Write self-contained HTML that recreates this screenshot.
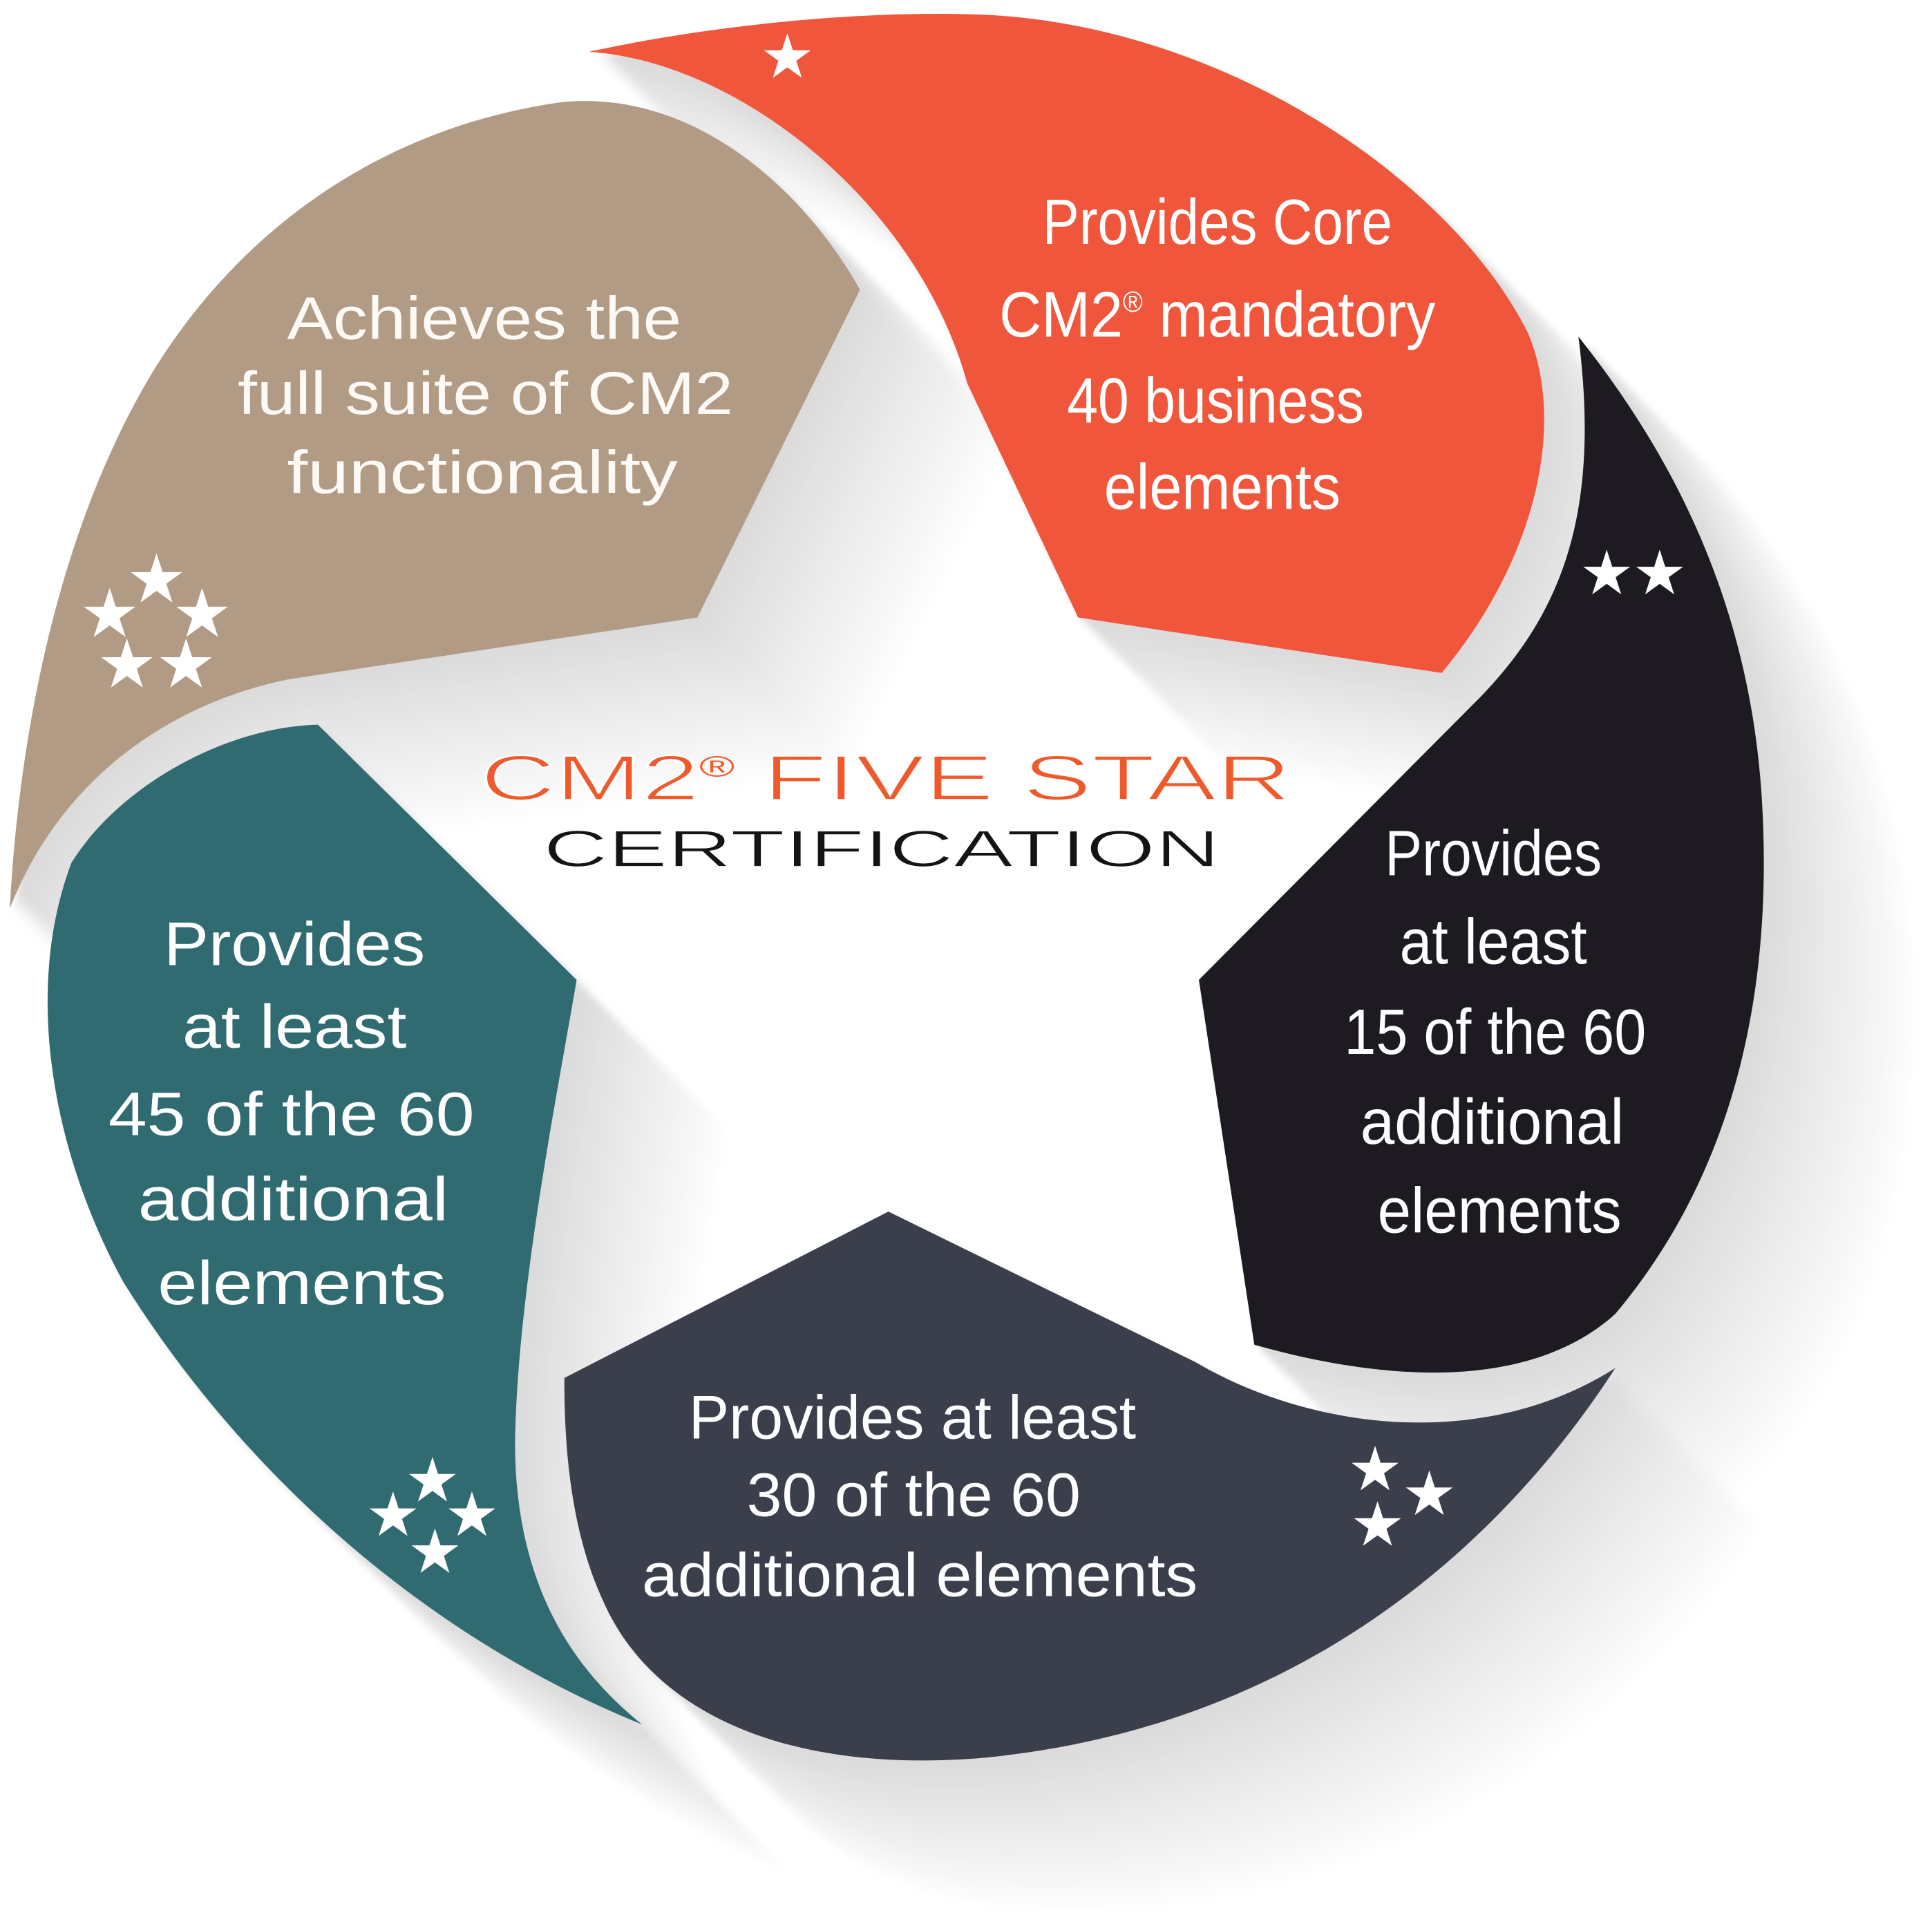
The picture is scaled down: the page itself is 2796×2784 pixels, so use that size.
<!DOCTYPE html>
<html>
<head>
<meta charset="utf-8">
<style>
html,body{margin:0;padding:0;background:#fff;}
body{width:2796px;height:2784px;overflow:hidden;}
svg{display:block;}
text{font-family:"Liberation Sans",Arial,sans-serif;}
</style>
</head>
<body>
<svg width="2796" height="2784" viewBox="0 0 1568 1561" preserveAspectRatio="none" xmlns="http://www.w3.org/2000/svg">
<defs>
  <path id="pTan" d="M 8,737 C 14,620 40,440 125,300 C 190,195 300,105 455,83 C 560,72 650,150 698,235 L 566,501 L 235,551 C 140,570 50,630 8,737 Z"/>
  <path id="pOr" d="M 478,42 C 580,20 700,8 800,12 C 1000,22 1180,150 1240,270 C 1270,340 1250,450 1170,546 L 875,501 L 785,311 C 745,165 600,50 478,42 Z"/>
  <path id="pBk" d="M 1281,273 C 1350,360 1420,480 1430,650 C 1440,820 1400,960 1311,1066 C 1240,1130 1120,1120 1018,1091 L 973,795 L 1201,566 C 1265,500 1300,420 1281,273 Z"/>
  <path id="pSl" d="M 721,983 L 970,1105 C 1060,1158 1200,1180 1311,1110 C 1220,1250 1060,1400 800,1426 C 640,1440 530,1390 490,1300 C 462,1240 458,1170 458,1118 Z"/>
  <path id="pTl" d="M 258,588 L 468,795 C 450,900 420,1050 418,1170 C 418,1280 460,1350 521,1399 C 350,1330 200,1200 100,1040 C 40,930 20,800 58,700 C 95,640 180,590 258,588 Z"/>
  <g id="all">
    <use href="#pTan"/><use href="#pOr"/><use href="#pBk"/><use href="#pSl"/><use href="#pTl"/>
  </g>
  <path id="st" d="M0,-1 L0.2245,-0.309 L0.951,-0.309 L0.363,0.118 L0.588,0.809 L0,0.382 L-0.588,0.809 L-0.363,0.118 L-0.951,-0.309 L-0.2245,-0.309Z"/>
  <filter id="blur" x="-10%" y="-10%" width="120%" height="120%"><feGaussianBlur stdDeviation="3"/></filter>
</defs>

<rect x="0" y="0" width="1568" height="1561" fill="#fff"/>

<!-- long shadows: far (light) to near (dark) -->
<g filter="url(#blur)">
  <use href="#all" transform="translate(125,125)" fill="#fefefe"/>
  <use href="#all" transform="translate(120,120)" fill="#fcfcfc"/>
  <use href="#all" transform="translate(115,115)" fill="#fbfbfb"/>
  <use href="#all" transform="translate(110,110)" fill="#f9f9f9"/>
  <use href="#all" transform="translate(105,105)" fill="#f8f8f8"/>
  <use href="#all" transform="translate(100,100)" fill="#f6f6f6"/>
  <use href="#all" transform="translate(95,95)" fill="#f5f5f5"/>
  <use href="#all" transform="translate(90,90)" fill="#f4f4f4"/>
  <use href="#all" transform="translate(85,85)" fill="#f2f2f2"/>
  <use href="#all" transform="translate(80,80)" fill="#f1f1f1"/>
  <use href="#all" transform="translate(75,75)" fill="#efefef"/>
  <use href="#all" transform="translate(70,70)" fill="#eeeeee"/>
  <use href="#all" transform="translate(65,65)" fill="#ececec"/>
  <use href="#all" transform="translate(60,60)" fill="#ebebeb"/>
  <use href="#all" transform="translate(55,55)" fill="#eaeaea"/>
  <use href="#all" transform="translate(50,50)" fill="#e8e8e8"/>
  <use href="#all" transform="translate(45,45)" fill="#e7e7e7"/>
  <use href="#all" transform="translate(40,40)" fill="#e5e5e5"/>
  <use href="#all" transform="translate(35,35)" fill="#e4e4e4"/>
  <use href="#all" transform="translate(30,30)" fill="#e3e3e3"/>
  <use href="#all" transform="translate(25,25)" fill="#e1e1e1"/>
  <use href="#all" transform="translate(20,20)" fill="#e0e0e0"/>
  <use href="#all" transform="translate(15,15)" fill="#dedede"/>
  <use href="#all" transform="translate(10,10)" fill="#dddddd"/>
  <use href="#all" transform="translate(5,5)" fill="#dbdbdb"/>
</g>

<!-- petals -->
<use href="#pTan" fill="#b29b85"/>
<use href="#pOr" fill="#ef563b"/>
<use href="#pBk" fill="#1e1a21"/>
<use href="#pSl" fill="#3b3f4b"/>
<use href="#pTl" fill="#306b71"/>

<!-- stars -->
<g fill="#fff">
  <use href="#st" transform="translate(639,47) scale(20)"/>
  <use href="#st" transform="translate(1304,466) scale(20)"/>
  <use href="#st" transform="translate(1347,466) scale(20)"/>
  <use href="#st" transform="translate(1116,1193) scale(20)"/>
  <use href="#st" transform="translate(1160,1213) scale(20)"/>
  <use href="#st" transform="translate(1118,1238) scale(20)"/>
  <use href="#st" transform="translate(351,1202) scale(20)"/>
  <use href="#st" transform="translate(319,1230) scale(20)"/>
  <use href="#st" transform="translate(383,1230) scale(20)"/>
  <use href="#st" transform="translate(353,1260) scale(20)"/>
  <use href="#st" transform="translate(127,471) scale(22)"/>
  <use href="#st" transform="translate(89,499) scale(22)"/>
  <use href="#st" transform="translate(164,499) scale(22)"/>
  <use href="#st" transform="translate(103,540) scale(22)"/>
  <use href="#st" transform="translate(151,540) scale(22)"/>
</g>

<!-- tan text -->
<g fill="#fdfaf6" font-size="49">
  <text x="233" y="275" textLength="320" lengthAdjust="spacingAndGlyphs">Achieves the</text>
  <text x="193" y="336" textLength="402" lengthAdjust="spacingAndGlyphs">full suite of CM2</text>
  <text x="233" y="400" textLength="317" lengthAdjust="spacingAndGlyphs">functionality</text>
</g>

<!-- orange text -->
<g fill="#fff" font-size="52">
  <text x="846" y="198" textLength="284" lengthAdjust="spacingAndGlyphs">Provides Core</text>
  <text x="811" y="273" textLength="354" lengthAdjust="spacingAndGlyphs">CM2<tspan font-size="24" dy="-20">®</tspan><tspan dy="20"> mandatory</tspan></text>
  <text x="866" y="343" textLength="241" lengthAdjust="spacingAndGlyphs">40 business</text>
  <text x="896" y="413" textLength="192" lengthAdjust="spacingAndGlyphs">elements</text>
</g>

<!-- black text -->
<g fill="#fff" font-size="52">
  <text x="1124" y="710" textLength="176" lengthAdjust="spacingAndGlyphs">Provides</text>
  <text x="1136" y="782" textLength="152" lengthAdjust="spacingAndGlyphs">at least</text>
  <text x="1091" y="855" textLength="245" lengthAdjust="spacingAndGlyphs">15 of the 60</text>
  <text x="1104" y="928" textLength="214" lengthAdjust="spacingAndGlyphs">additional</text>
  <text x="1118" y="1000" textLength="198" lengthAdjust="spacingAndGlyphs">elements</text>
</g>

<!-- slate text -->
<g fill="#fff" font-size="50">
  <text x="559" y="1167" textLength="363" lengthAdjust="spacingAndGlyphs">Provides at least</text>
  <text x="606" y="1230" textLength="271" lengthAdjust="spacingAndGlyphs">30 of the 60</text>
  <text x="521" y="1295" textLength="451" lengthAdjust="spacingAndGlyphs">additional elements</text>
</g>

<!-- teal text -->
<g fill="#fff" font-size="50">
  <text x="133" y="783" textLength="212" lengthAdjust="spacingAndGlyphs">Provides</text>
  <text x="148" y="850" textLength="182" lengthAdjust="spacingAndGlyphs">at least</text>
  <text x="88" y="921" textLength="297" lengthAdjust="spacingAndGlyphs">45 of the 60</text>
  <text x="112" y="990" textLength="252" lengthAdjust="spacingAndGlyphs">additional</text>
  <text x="128" y="1058" textLength="234" lengthAdjust="spacingAndGlyphs">elements</text>
</g>

<!-- center title -->
<text x="390" y="649" font-size="52" fill="#ee5a2c" stroke="#fff" stroke-width="1.4" textLength="658" lengthAdjust="spacingAndGlyphs">CM2<tspan font-size="24" dy="-19" stroke="none">®</tspan><tspan dy="19"> FIVE STAR</tspan></text>
<text x="441" y="703" font-size="42" fill="#141414" stroke="#fff" stroke-width="0.8" textLength="549" lengthAdjust="spacingAndGlyphs">CERTIFICATION</text>
</svg>
</body>
</html>
